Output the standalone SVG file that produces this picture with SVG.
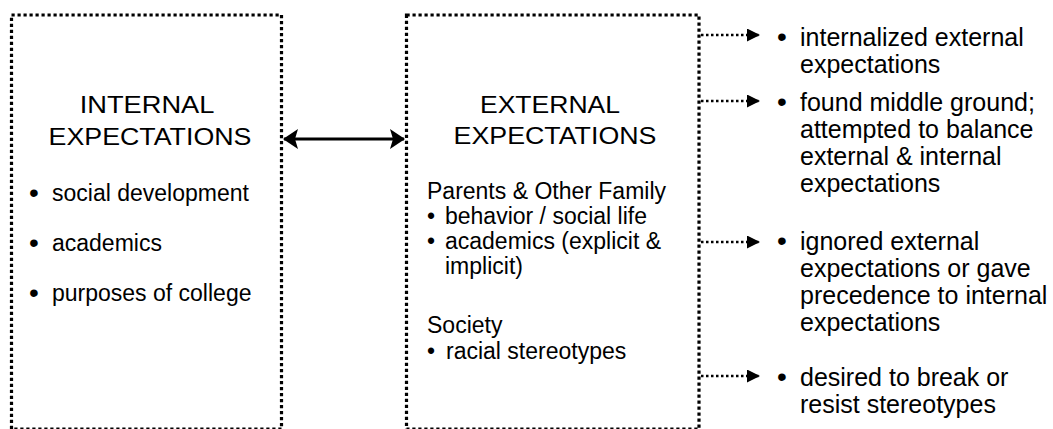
<svg xmlns="http://www.w3.org/2000/svg" width="1053" height="429" viewBox="0 0 1053 429">
<defs>
<style>
.box{fill:none;stroke:#000;stroke-width:3.2;stroke-dasharray:3.2 2.8}
.t{font-family:"Liberation Sans",Arial,sans-serif;fill:#000}
.title{font-size:23.5px;text-anchor:middle}
.b{font-size:23px}
.r{font-size:25px}
.bl{font-size:28px}
.dl{fill:none;stroke:#000;stroke-width:2.5;stroke-dasharray:2.5 2.5}
.dbl{fill:none;stroke:#000;stroke-width:3}
</style>
<marker id="tri" viewBox="0 0 13 13" refX="13" refY="6.5" markerWidth="13" markerHeight="13" markerUnits="userSpaceOnUse" orient="auto">
<path d="M0,0 L13,6.5 L0,13 Z" fill="#000"/>
</marker>
<marker id="big" viewBox="0 0 15 20" refX="14" refY="10" markerWidth="15" markerHeight="20" markerUnits="userSpaceOnUse" orient="auto-start-reverse">
<path d="M0,0 L15,10 L0,20 L3,10 Z" fill="#000"/>
</marker>
</defs>
<rect width="1053" height="429" fill="#fff"/>

<g id="internal">
<rect class="box" x="11.5" y="15" width="270" height="414"/>
<text class="t title" transform="translate(147,113) scale(1.16,1)">INTERNAL</text>
<text class="t title" transform="translate(150,145) scale(1.14,1)">EXPECTATIONS</text>
<text class="t b" y="201"><tspan class="bl" x="29" dy="1">•</tspan><tspan x="52" dy="-1">social development</tspan></text>
<text class="t b" y="251"><tspan class="bl" x="29" dy="1">•</tspan><tspan x="52" dy="-1">academics</tspan></text>
<text class="t b" y="301"><tspan class="bl" x="29" dy="1">•</tspan><tspan x="52" dy="-1">purposes of college</tspan></text>
</g>

<g id="external">
<rect class="box" x="406.5" y="15" width="292.5" height="414"/>
<text class="t title" transform="translate(550,113) scale(1.13,1)">EXTERNAL</text>
<text class="t title" transform="translate(555,144) scale(1.14,1)">EXPECTATIONS</text>
<text class="t b" x="427" y="199">Parents &amp; Other Family</text>
<text class="t b" y="224"><tspan x="427">•</tspan><tspan x="445">behavior / social life</tspan></text>
<text class="t b" y="249"><tspan x="427">•</tspan><tspan x="445">academics (explicit &amp;</tspan></text>
<text class="t b" x="445" y="274">implicit)</text>
<text class="t b" x="427" y="333">Society</text>
<text class="t b" y="359"><tspan x="427">•</tspan><tspan x="446">racial stereotypes</tspan></text>
</g>

<g id="outcome1">
<text class="t r" y="46"><tspan class="bl" x="777">•</tspan><tspan x="800">internalized external</tspan></text>
<text class="t r" x="800" y="73">expectations</text>
</g>
<g id="outcome2">
<text class="t r" y="111"><tspan class="bl" x="777">•</tspan><tspan x="800">found middle ground;</tspan></text>
<text class="t r" x="800" y="138">attempted to balance</text>
<text class="t r" x="800" y="165">external &amp; internal</text>
<text class="t r" x="800" y="192">expectations</text>
</g>
<g id="outcome3">
<text class="t r" y="250"><tspan class="bl" x="777">•</tspan><tspan x="800">ignored external</tspan></text>
<text class="t r" x="800" y="277">expectations or gave</text>
<text class="t r" x="800" y="304">precedence to internal</text>
<text class="t r" x="800" y="331">expectations</text>
</g>
<g id="outcome4">
<text class="t r" y="386"><tspan class="bl" x="777">•</tspan><tspan x="800">desired to break or</tspan></text>
<text class="t r" x="800" y="413">resist stereotypes</text>
</g>

<g id="connectors">
<line class="dbl" x1="284" y1="139" x2="404" y2="139" marker-start="url(#big)" marker-end="url(#big)"/>
<line class="dl" x1="701" y1="35" x2="760" y2="35" marker-end="url(#tri)"/>
<line class="dl" x1="701" y1="101" x2="760" y2="101" marker-end="url(#tri)"/>
<line class="dl" x1="701" y1="242" x2="760" y2="242" marker-end="url(#tri)"/>
<line class="dl" x1="701" y1="376" x2="760" y2="376" marker-end="url(#tri)"/>
</g>
</svg>
